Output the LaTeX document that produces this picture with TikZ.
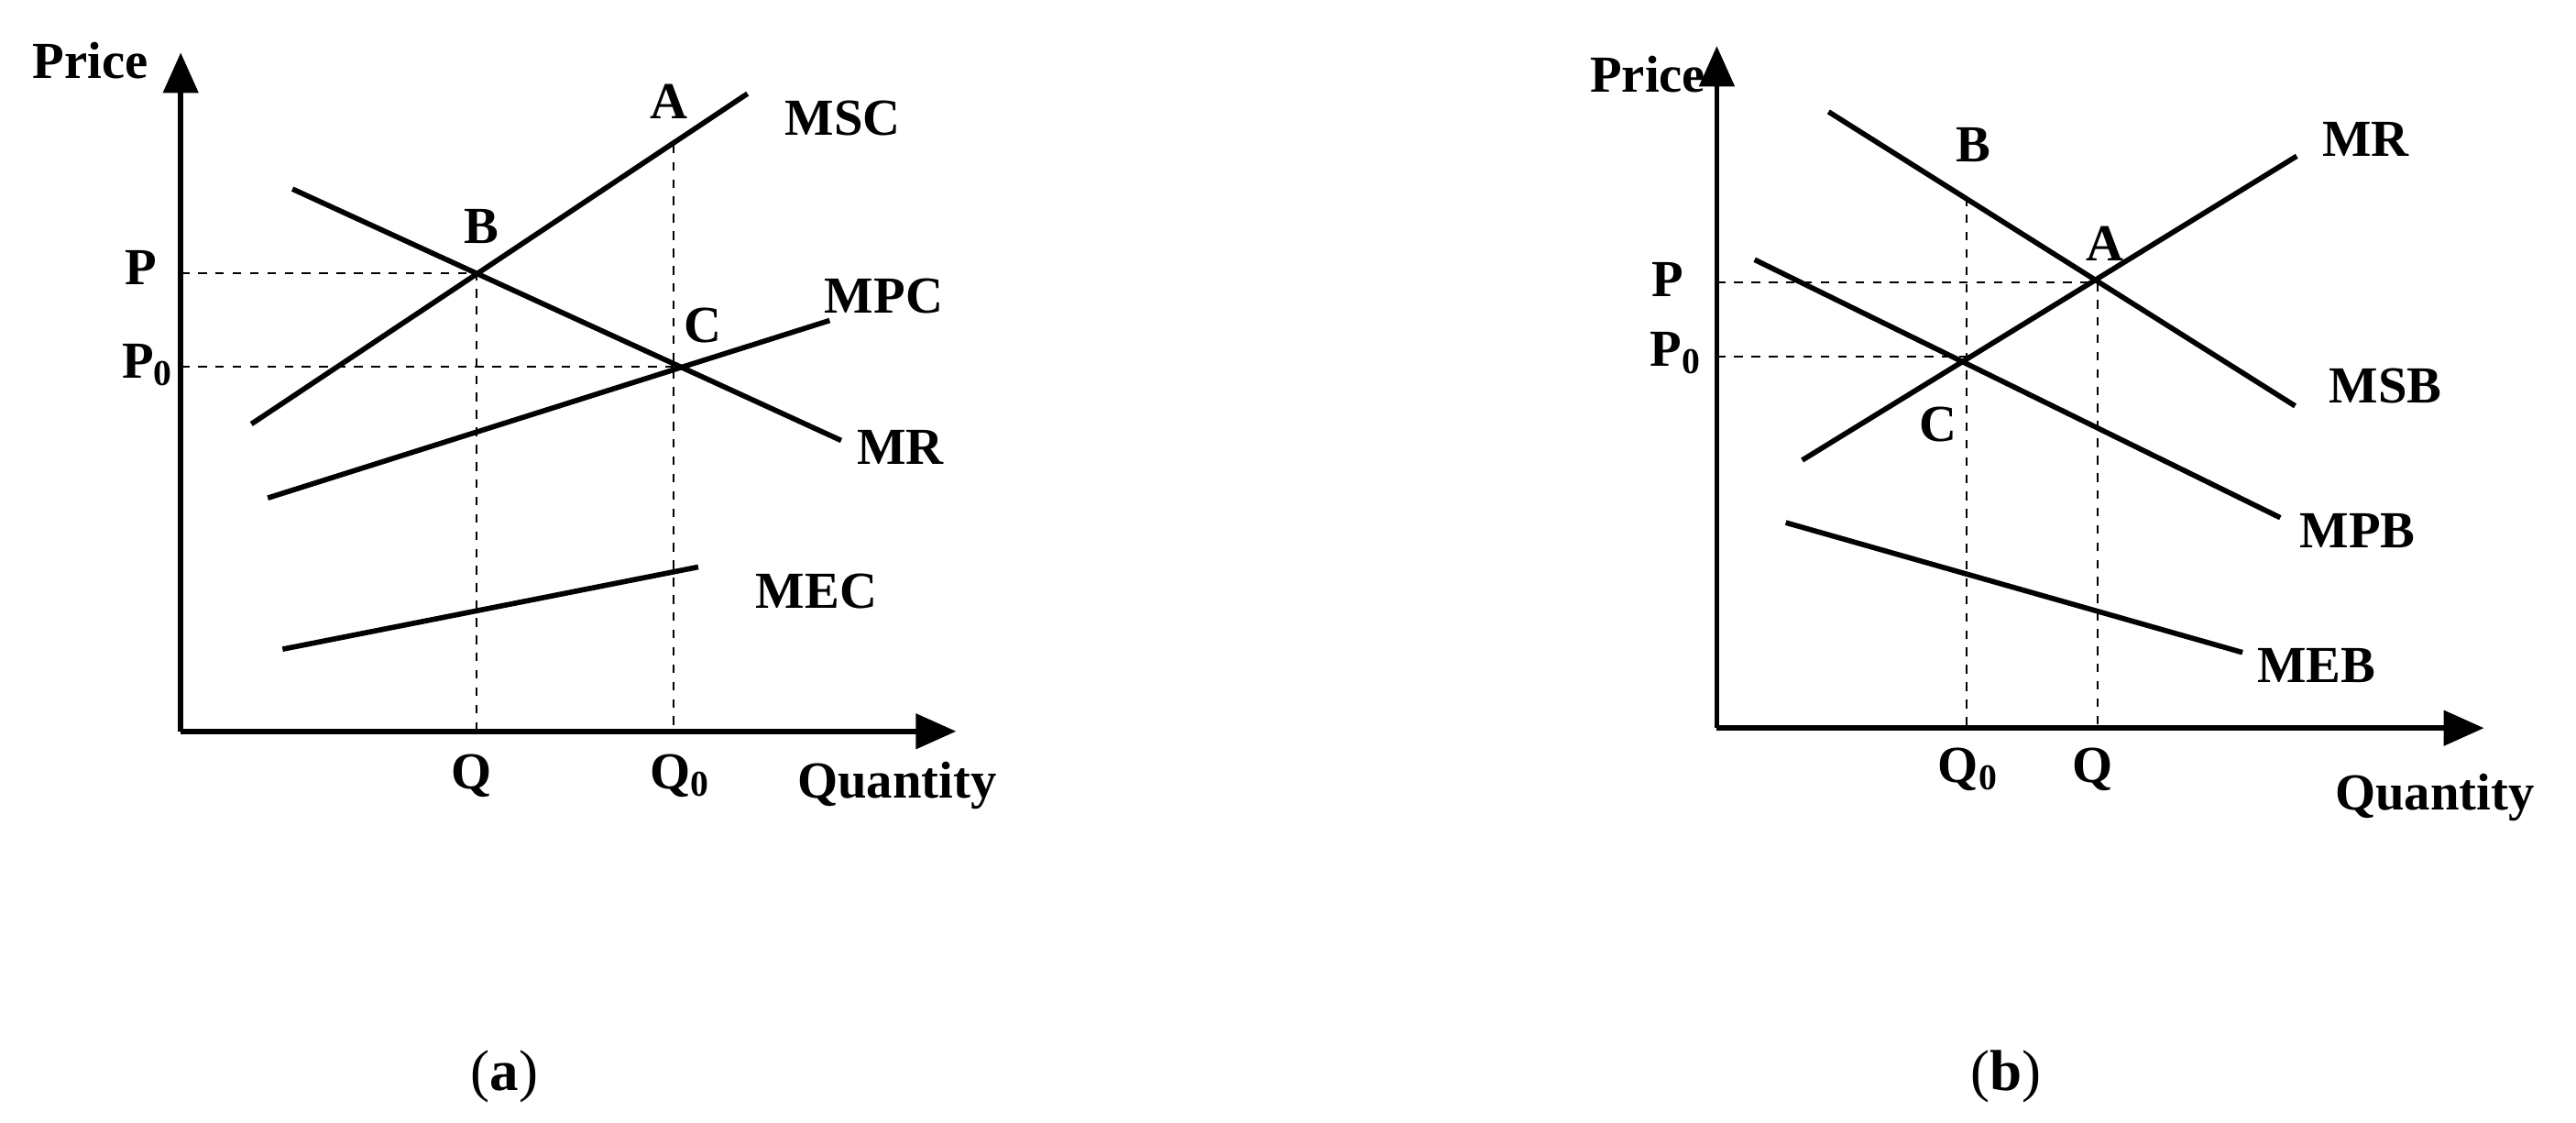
\documentclass[tikz,border=0pt]{standalone}
\usepackage{fontspec}
\setmainfont{Liberation Serif}
\usetikzlibrary{arrows.meta}
\begin{document}
\begin{tikzpicture}[x=0.02cm,y=-0.02cm,
  curve/.style={line width=1.8pt},
  axis/.style={line width=1.8pt,-{Triangle[length=14pt,width=12pt]}},
  guide/.style={dashed,line width=0.6pt},
  lab/.style={font=\fontsize{18}{20}\selectfont\bfseries,inner sep=0pt},
  panelcap/.style={font=\fontsize{20}{22}\selectfont,inner sep=0pt}]
\useasboundingbox (0,0) rectangle (1568,683);
% ---- panel (a)
\coordinate (oa) at (110,445);
\coordinate (ya) at (110,32);
\coordinate (xa) at (582,445);
\draw[axis] (oa) -- (ya);
\draw[axis] (oa) -- (xa);
\coordinate (msc1) at (153,258); \coordinate (msc2) at (455,57);
\coordinate (mpc1) at (163,303); \coordinate (mpc2) at (505,195);
\coordinate (mr1) at (178,115); \coordinate (mr2) at (512,268);
\coordinate (mec1) at (172,395); \coordinate (mec2) at (425,345);
\draw[curve] (msc1) -- (msc2);
\draw[curve] (mpc1) -- (mpc2);
\draw[curve] (mr1) -- (mr2);
\draw[curve] (mec1) -- (mec2);
\coordinate (Ba) at (290,166); \coordinate (Ca) at (410,223); \coordinate (Aa) at (410,88);
\coordinate (Pa) at (110,166); \coordinate (P0a) at (110,223);
\coordinate (Qa) at (290,445); \coordinate (Q0a) at (410,445);
\draw[guide] (Pa) -- (Ba) -- (Qa);
\draw[guide] (P0a) -- (Ca);
\draw[guide] (Aa) -- (Q0a);
\node[lab] (tPrice) at (55,37) {Price};
\node[lab] (tA) at (407,62) {A};
\node[lab] (tMSC) at (513,72) {MSC};
\node[lab] (tB) at (293,138) {B};
\node[lab] (tC) at (428,198) {C};
\node[lab] (tMPC) at (538,180) {MPC};
\node[lab] (tMR) at (548,272) {MR};
\node[lab] (tMEC) at (497,360) {MEC};
\node[lab] (tP) at (86,163) {P};
\node[lab] (tP0) at (90,222) {P$_{\mathbf 0}$};
\node[lab] (tQ) at (287,472) {Q};
\node[lab] (tQ0) at (414,472) {Q$_{\mathbf 0}$};
\node[lab] (tQty) at (546,478) {Quantity};
\node[panelcap] (ca) at (307,655) {(\textbf{a})};
% ---- panel (b)
\coordinate (ob) at (1045,443);
\coordinate (yb) at (1045,28);
\coordinate (xb) at (1512,443);
\draw[axis] (ob) -- (yb);
\draw[axis] (ob) -- (xb);
\coordinate (mrb1) at (1097,280); \coordinate (mrb2) at (1398,95);
\coordinate (msb1) at (1113,68); \coordinate (msb2) at (1397,247);
\coordinate (mpb1) at (1068,158); \coordinate (mpb2) at (1388,315);
\coordinate (meb1) at (1087,318); \coordinate (meb2) at (1365,397);
\draw[curve] (mrb1) -- (mrb2);
\draw[curve] (msb1) -- (msb2);
\draw[curve] (mpb1) -- (mpb2);
\draw[curve] (meb1) -- (meb2);
\coordinate (Ab) at (1277,172); \coordinate (Cb) at (1197,217); \coordinate (Bb) at (1197,120);
\coordinate (Pb) at (1045,172); \coordinate (P0b) at (1045,217);
\coordinate (Qb) at (1277,443); \coordinate (Q0b) at (1197,443);
\draw[guide] (Pb) -- (Ab) -- (Qb);
\draw[guide] (P0b) -- (Cb);
\draw[guide] (Bb) -- (Q0b);
\node[lab] (uPrice) at (1003,45) {Price};
\node[lab] (uMR) at (1440,85) {MR};
\node[lab] (uA) at (1281,148) {A};
\node[lab] (uB) at (1201,88) {B};
\node[lab] (uP) at (1015,170) {P};
\node[lab] (uP0) at (1020,215) {P$_{\mathbf 0}$};
\node[lab] (uC) at (1180,258) {C};
\node[lab] (uMSB) at (1452,235) {MSB};
\node[lab] (uMPB) at (1435,323) {MPB};
\node[lab] (uMEB) at (1410,405) {MEB};
\node[lab] (uQ0) at (1198,468) {Q$_{\mathbf 0}$};
\node[lab] (uQ) at (1274,468) {Q};
\node[lab] (uQty) at (1482,485) {Quantity};
\node[panelcap] (cb) at (1221,655) {(\textbf{b})};
\end{tikzpicture}
\end{document}
